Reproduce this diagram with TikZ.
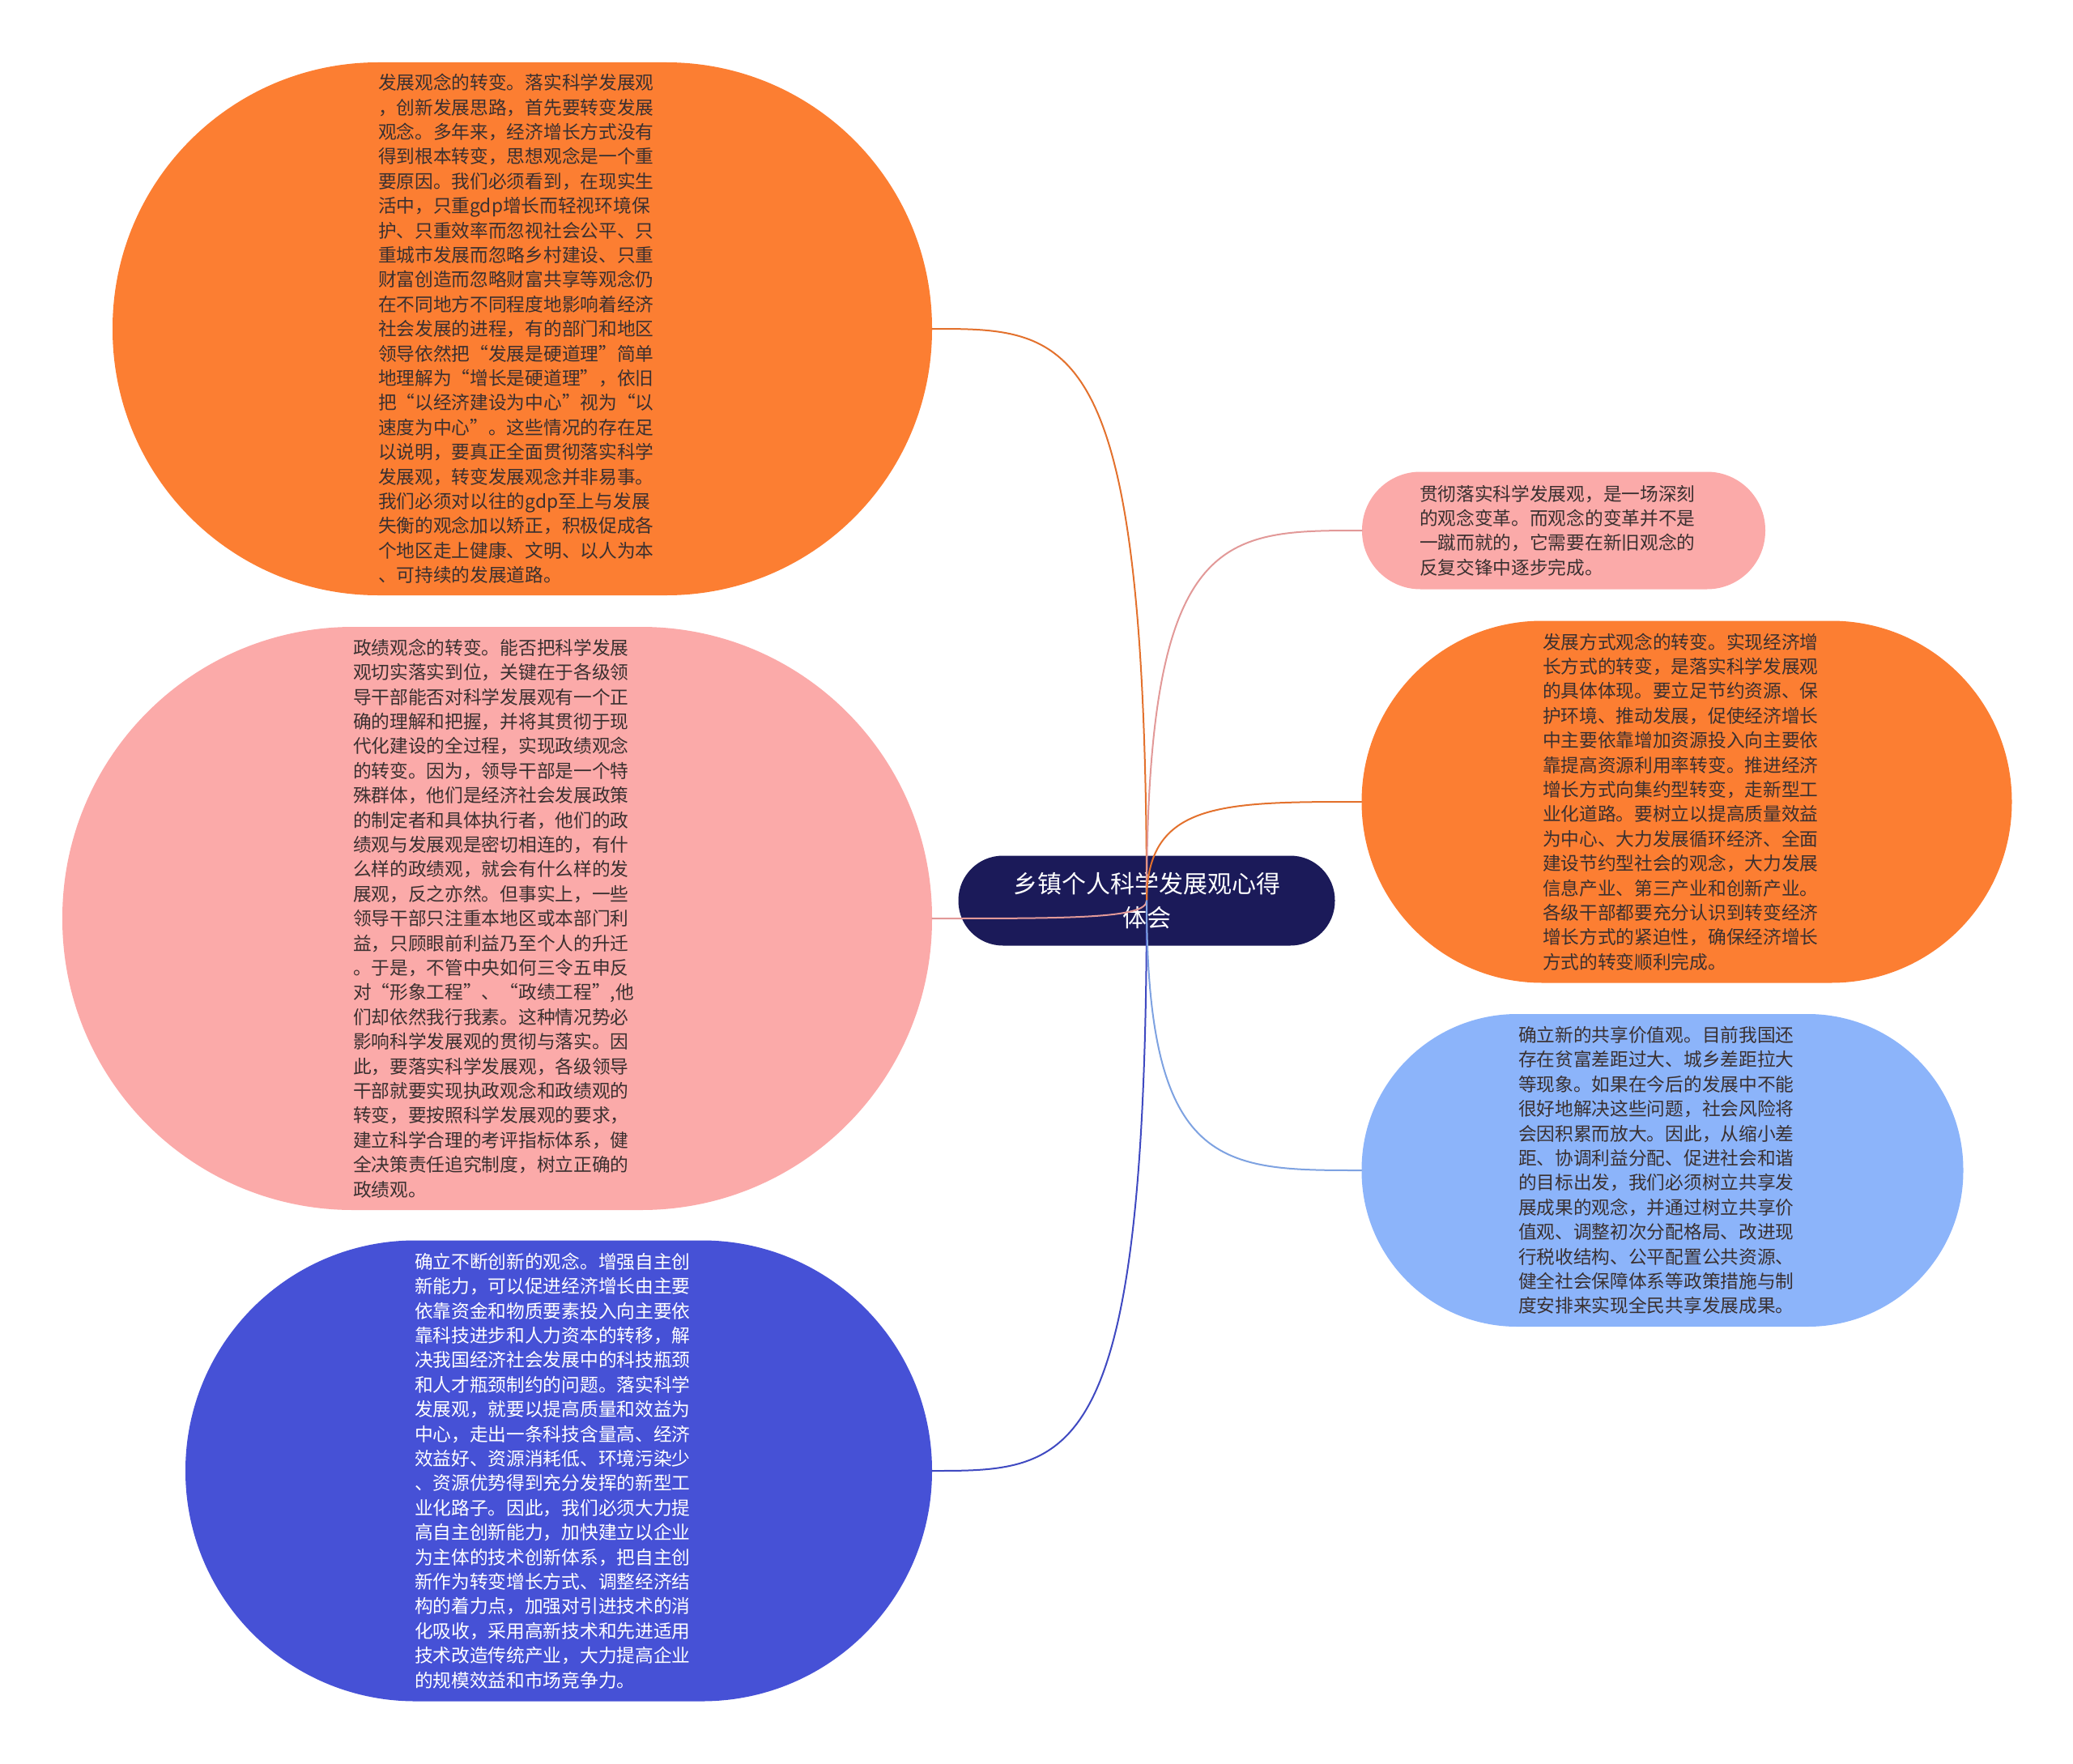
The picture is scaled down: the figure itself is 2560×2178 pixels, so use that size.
\documentclass[tikz,border=0pt]{standalone}
\usepackage{fontspec}
\setmainfont{Noto Sans CJK SC}
\usetikzlibrary{calc}
\definecolor{ora}{HTML}{FC7E32}
\definecolor{pnk}{HTML}{FBAAA9}
\definecolor{lbl}{HTML}{8CB4FA}
\definecolor{vio}{HTML}{4651D6}
\definecolor{nav}{HTML}{1B1A59}
\definecolor{txt}{HTML}{3A3030}

\begin{document}
\begin{tikzpicture}[x=1pt,y=-1pt,line cap=round,
		bub/.style={rectangle,inner sep=0pt,text width=356pt,align=left,text=txt,font=\fontsize{22.7pt}{30.4pt}\selectfont},
		link/.style={line width=2pt}]
		\useasboundingbox (0,0) rectangle (2560,2178);
		\node[bub,fill=ora,minimum width=1012pt,minimum height=658pt,rounded corners=328pt] (devidea) at (645,406) {发展观念的转变。落实科学发展观\\，创新发展思路，首先要转变发展\\观念。多年来，经济增长方式没有\\得到根本转变，思想观念是一个重\\要原因。我们必须看到，在现实生\\活中，只重gdp增长而轻视环境保\\护、只重效率而忽视社会公平、只\\重城市发展而忽略乡村建设、只重\\财富创造而忽略财富共享等观念仍\\在不同地方不同程度地影响着经济\\社会发展的进程，有的部门和地区\\领导依然把“发展是硬道理”简单\\地理解为“增长是硬道理”，依旧\\把“以经济建设为中心”视为“以\\速度为中心”。这些情况的存在足\\以说明，要真正全面贯彻落实科学\\发展观，转变发展观念并非易事。\\我们必须对以往的gdp至上与发展\\失衡的观念加以矫正，积极促成各\\个地区走上健康、文明、以人为本\\、可持续的发展道路。};
		\node[bub,fill=pnk,minimum width=1074pt,minimum height=720pt,rounded corners=359pt] (perf) at (614,1134) {政绩观念的转变。能否把科学发展\\观切实落实到位，关键在于各级领\\导干部能否对科学发展观有一个正\\确的理解和把握，并将其贯彻于现\\代化建设的全过程，实现政绩观念\\的转变。因为，领导干部是一个特\\殊群体，他们是经济社会发展政策\\的制定者和具体执行者，他们的政\\绩观与发展观是密切相连的，有什\\么样的政绩观，就会有什么样的发\\展观，反之亦然。但事实上，一些\\领导干部只注重本地区或本部门利\\益，只顾眼前利益乃至个人的升迁\\。于是，不管中央如何三令五申反\\对“形象工程”、“政绩工程”,他\\们却依然我行我素。这种情况势必\\影响科学发展观的贯彻与落实。因\\此，要落实科学发展观，各级领导\\干部就要实现执政观念和政绩观的\\转变，要按照科学发展观的要求，\\建立科学合理的考评指标体系，健\\全决策责任追究制度，树立正确的\\政绩观。};
		\node[bub,fill=vio,text=white,minimum width=922pt,minimum height=569pt,rounded corners=284pt] (innov) at (690,1816) {确立不断创新的观念。增强自主创\\新能力，可以促进经济增长由主要\\依靠资金和物质要素投入向主要依\\靠科技进步和人力资本的转移，解\\决我国经济社会发展中的科技瓶颈\\和人才瓶颈制约的问题。落实科学\\发展观，就要以提高质量和效益为\\中心，走出一条科技含量高、经济\\效益好、资源消耗低、环境污染少\\、资源优势得到充分发挥的新型工\\业化路子。因此，我们必须大力提\\高自主创新能力，加快建立以企业\\为主体的技术创新体系，把自主创\\新作为转变增长方式、调整经济结\\构的着力点，加强对引进技术的消\\化吸收，采用高新技术和先进适用\\技术改造传统产业，大力提高企业\\的规模效益和市场竞争力。};
		\node[bub,fill=pnk,minimum width=498pt,minimum height=145pt,rounded corners=72pt] (intro) at (1931,655) {贯彻落实科学发展观，是一场深刻\\的观念变革。而观念的变革并不是\\一蹴而就的，它需要在新旧观念的\\反复交锋中逐步完成。};
		\node[bub,fill=ora,minimum width=803pt,minimum height=447pt,rounded corners=223pt] (mode) at (2083,990) {发展方式观念的转变。实现经济增\\长方式的转变，是落实科学发展观\\的具体体现。要立足节约资源、保\\护环境、推动发展，促使经济增长\\中主要依靠增加资源投入向主要依\\靠提高资源利用率转变。推进经济\\增长方式向集约型转变，走新型工\\业化道路。要树立以提高质量效益\\为中心、大力发展循环经济、全面\\建设节约型社会的观念，大力发展\\信息产业、第三产业和创新产业。\\各级干部都要充分认识到转变经济\\增长方式的紧迫性，确保经济增长\\方式的转变顺利完成。};
		\node[bub,fill=lbl,minimum width=743pt,minimum height=386pt,rounded corners=192pt] (share) at (2053,1445) {确立新的共享价值观。目前我国还\\存在贫富差距过大、城乡差距拉大\\等现象。如果在今后的发展中不能\\很好地解决这些问题，社会风险将\\会因积累而放大。因此，从缩小差\\距、协调利益分配、促进社会和谐\\的目标出发，我们必须树立共享发\\展成果的观念，并通过树立共享价\\值观、调整初次分配格局、改进现\\行税收结构、公平配置公共资源、\\健全社会保障体系等政策措施与制\\度安排来实现全民共享发展成果。};
		\node[fill=nav,text=white,inner sep=0pt,text width=400pt,align=center,minimum width=465pt,minimum height=111pt,rounded corners=55pt,font=\fontsize{30pt}{42pt}\selectfont] (root) at (1416,1112) {乡镇个人科学发展观心得\\体会};
		\draw[link,ora!90!black] (root.center) .. controls (root.center |- devidea.east) and ($(root.center |- devidea.east)!0.35!(devidea.east)$) .. (devidea.east);
		\draw[link,pnk!90!black] (root.center) .. controls (root.center |- perf.east) and ($(root.center |- perf.east)!0.35!(perf.east)$) .. (perf.east);
		\draw[link,vio!90!black] (root.center) .. controls (root.center |- innov.east) and ($(root.center |- innov.east)!0.35!(innov.east)$) .. (innov.east);
		\draw[link,pnk!90!black] (root.center) .. controls (root.center |- intro.west) and ($(root.center |- intro.west)!0.35!(intro.west)$) .. (intro.west);
		\draw[link,ora!90!black] (root.center) .. controls (root.center |- mode.west) and ($(root.center |- mode.west)!0.35!(mode.west)$) .. (mode.west);
		\draw[link,lbl!90!black] (root.center) .. controls (root.center |- share.west) and ($(root.center |- share.west)!0.35!(share.west)$) .. (share.west);
	\end{tikzpicture}
\end{document}
